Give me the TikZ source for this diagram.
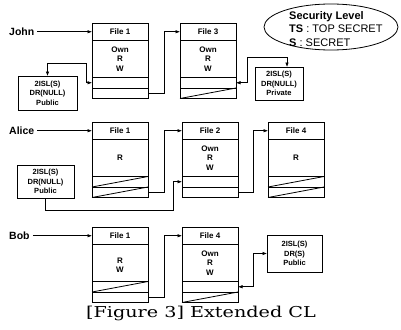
\documentclass[tikz,border=0pt]{standalone}
\usepackage{fontspec}
\setmainfont{Liberation Sans}
\newfontfamily\capfont{DejaVu Serif}
\usepackage{graphicx}
\usetikzlibrary{arrows.meta,shapes.geometric}
\tikzset{
  cell/.style={draw, line width=0.8pt, inner sep=0pt, outer sep=0pt},
  hdr/.style={cell, minimum width=56pt, minimum height=17.5pt, font=\bfseries\fontsize{8}{9}\selectfont},
  bdy/.style={cell, minimum width=56pt, minimum height=37pt, align=center, font=\bfseries\fontsize{8}{9.5}\selectfont},
  slot/.style={cell, minimum width=56pt, minimum height=10.5pt},
  tag/.style={cell, align=center, font=\bfseries\fontsize{7.5}{9.5}\selectfont},
  who/.style={font=\bfseries\fontsize{10.5}{12}\selectfont, inner sep=1pt},
  link/.style={line width=0.6pt, -{Latex[length=4.5pt,width=3.5pt]}},
  both/.style={line width=0.6pt, {Latex[length=4.5pt,width=3.5pt]}-{Latex[length=4.5pt,width=3.5pt]}},
  slash/.style={line width=0.8pt}
}
\newcommand{\FileBox}[4]{%
  \node[hdr, anchor=north west] (#1h) at (#2) {#3};
  \node[bdy, anchor=north] (#1b) at (#1h.south) {#4};
  \node[slot, anchor=north] (#1s) at (#1b.south) {};
  \node[slot, anchor=north] (#1t) at (#1s.south) {};
}
\begin{document}
\begin{tikzpicture}[x=1pt,y=-1pt]
\useasboundingbox (0,0) rectangle (401,329);

% ---------- John ----------
\FileBox{j1}{92,23}{File 1}{Own\\R\\W}
\FileBox{j3}{180,23}{File 3}{Own\\R\\W}
\draw[slash] (j3t.south west) -- (j3t.north east);
\node[who, anchor=west] (john) at (8,31.75) {John};
\node[tag, minimum width=59pt, minimum height=34pt] (jp) at (47.5,93) {2ISL(S)\\DR(NULL)\\Public};
\node[tag, minimum width=48pt, minimum height=33pt] (jv) at (279,83.5) {2ISL(S)\\DR(NULL)\\Private};
\draw[link, shorten <=2pt] (john.east) -- (j1h.west);
\draw[both] (jp.north) -- ++(0,-13) -| ([xshift=-6pt]j1s.west) -- (j1s.west);
\draw[link] (j1t.east) -- ++(16,0) |- (j3h.west);
\draw[both] (j3s.east) -- ++(11,0) |- ([xshift=8pt,yshift=10pt]jv.north) -- ([xshift=8pt]jv.north);

% ---------- Alice ----------
\FileBox{a1}{92,122}{File 1}{R}
\FileBox{a2}{182,122}{File 2}{Own\\R\\W}
\FileBox{a4}{268,122}{File 4}{R}
\draw[slash] (a1s.south west) -- (a1s.north east);
\draw[slash] (a1t.south west) -- (a1t.north east);
\draw[slash] (a4s.south west) -- (a4s.north east);
\draw[slash] (a4t.south west) -- (a4t.north east);
\node[who, anchor=west] (alice) at (8,130.75) {Alice};
\node[tag, minimum width=57pt, minimum height=33pt] (ap) at (45.5,181.5) {2ISL(S)\\DR(NULL)\\Public};
\draw[link, shorten <=2pt] (alice.east) -- (a1h.west);
\draw[link] (ap.south) -- ++(0,12) -| ([xshift=-9pt]a2s.west) -- (a2s.west);
\draw[link] (a1t.east) -- ++(16,0) |- (a2h.west);
\draw[link] (a2t.east) -- ++(15,0) |- (a4h.west);

% ---------- Bob ----------
\FileBox{b1}{92,227}{File 1}{\mbox{}\\R\\W}
\FileBox{b4}{182,227}{File 4}{Own\\R\\W}
\draw[slash] (b1s.south west) -- (b1s.north east);
\draw[slash] (b4t.south west) -- (b4t.north east);
\node[who, anchor=west] (bob) at (8,235.75) {Bob};
\node[tag, minimum width=55pt, minimum height=37pt] (bp) at (294.5,253.5) {2ISL(S)\\DR(S)\\Public};
\draw[link, shorten <=2pt] (bob.east) -- (b1h.west);
\draw[link] (b1t.east) -- ++(16,0) |- (b4h.west);
\draw[both] (b4s.east) -- ++(15,0) |- (bp.west);

% ---------- Security level ----------
\node[draw, ellipse, line width=0.8pt, minimum width=134pt, minimum height=46pt] (sec) at (331,27) {};
\node[anchor=west, align=left, inner sep=0pt, font=\fontsize{11}{13.5}\selectfont] (sectext) at (289,29)
  {\textbf{Security Level}\\\textbf{TS} : TOP SECRET\\\textbf{S} : SECRET};

% ---------- Caption ----------
\node[font=\capfont\fontsize{15}{18}\selectfont] (cap) at (201,313) {\scalebox{1.28}[1]{[Figure 3] Extended CL}};
\end{tikzpicture}
\end{document}
